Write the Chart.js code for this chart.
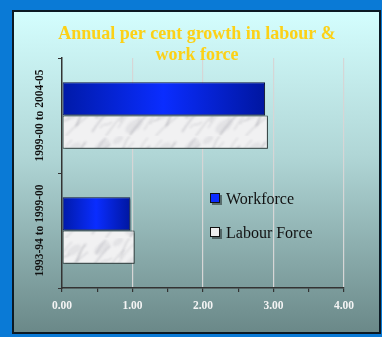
<!DOCTYPE html>
<html>
<head>
<meta charset="utf-8">
<script src="https://cdn.jsdelivr.net/npm/chart.js@4"></script>
<style>
  html, body { margin:0; padding:0; background:#0a7ad6; }
  #wrap { width:382px; height:337px; }
</style>
</head>
<body>
<div id="wrap"><canvas id="growthChart" width="382" height="337"></canvas></div>
<script>
const periods = ['1999-00 to 2004-05', '1993-94 to 1999-00'];
const workforce = [2.88, 0.97];
const labourForce = [2.92, 1.03];
const xTicks = [0, 0.5, 1, 1.5, 2, 2.5, 3, 3.5, 4];

const titleLines = ['Annual per cent growth in labour &', 'work force'];
const serif = "'Liberation Serif', 'Times New Roman', serif";

// soft marble texture for the labour force bars
function marble(){
  const c = document.createElement('canvas');
  c.width = 90; c.height = 34;
  const g = c.getContext('2d');
  g.fillStyle = '#f1f1f2';
  g.fillRect(0,0,90,34);
  const streaks = [[2,30,20,8],[16,34,34,12],[28,26,44,6],[40,33,60,10],[54,28,72,4],[66,34,88,14],
                   [6,16,16,2],[30,20,40,0],[48,18,58,2],[76,24,86,6],[10,26,22,20],[60,22,70,16]];
  g.filter = 'blur(0.8px)';
  streaks.forEach(([x1,y1,x2,y2], i) => {
    g.lineWidth = i % 3 === 0 ? 1.6 : 1;
    g.strokeStyle = i % 2 ? 'rgba(140,140,148,0.45)' : 'rgba(175,175,182,0.55)';
    g.beginPath();
    g.moveTo(x1,y1);
    g.bezierCurveTo(x1+4,y1-6,x2-6,y2+5,x2,y2);
    g.stroke();
  });
  g.fillStyle = 'rgba(200,200,206,0.35)';
  [[12,10,9],[44,24,10],[74,12,8],[28,4,6]].forEach(([x,y,r]) => {
    g.beginPath(); g.ellipse(x,y,r,r/2,-0.6,0,Math.PI*2); g.fill();
  });
  return c;
}

const ctx = document.getElementById('growthChart').getContext('2d');
const marblePattern = ctx.createPattern(marble(), 'repeat');

function blueBar(c){
  const chart = c.chart;
  const xs = chart.scales.x;
  if (!xs || c.parsed == null) return '#0a2cff';
  const x0 = xs.getPixelForValue(0);
  const x1 = xs.getPixelForValue(c.parsed.x);
  if (!isFinite(x0) || !isFinite(x1) || x1 <= x0) return '#0a2cff';
  const gr = chart.ctx.createLinearGradient(x0, 0, x1, 0);
  gr.addColorStop(0, '#001aa8');
  gr.addColorStop(0.5, '#0a2dff');
  gr.addColorStop(1, '#0016a0');
  return gr;
}

const panel = {
  id: 'panel',
  beforeDraw(chart){
    const g = chart.ctx;
    g.save();
    g.fillStyle = '#0a7ad6';
    g.fillRect(0,0,chart.width,chart.height);
    const gr = g.createLinearGradient(0, 11, 0, 333);
    gr.addColorStop(0, '#d4fefe');
    gr.addColorStop(0.45, '#b0d6d6');
    gr.addColorStop(1, '#6a8888');
    g.fillStyle = gr;
    g.fillRect(13, 11, 367, 322);
    g.strokeStyle = '#0c1a24';
    g.lineWidth = 2;
    g.strokeRect(13, 11, 367, 322);
    g.restore();
  },
  beforeDatasetsDraw(chart){
    const g = chart.ctx;
    g.save();
    g.shadowColor = 'rgba(40,50,50,0.55)';
    g.shadowOffsetX = 2;
    g.shadowOffsetY = 2;
    g.shadowBlur = 1;
  },
  afterDatasetsDraw(chart){
    chart.ctx.restore();
  },
  afterDraw(chart){
    const g = chart.ctx;
    const ys = chart.scales.y;
    g.save();
    // title
    g.fillStyle = '#fcd116';
    g.font = 'bold 18px ' + serif;
    g.textAlign = 'center';
    g.textBaseline = 'middle';
    g.fillText(titleLines[0], 197, 34);
    g.fillText(titleLines[1], 197, 55);

    // rotated category labels
    g.fillStyle = '#111';
    g.font = 'bold 11.5px ' + serif;
    periods.forEach((p, i) => {
      g.save();
      g.translate(40, ys.getPixelForValue(i));
      g.rotate(-Math.PI/2);
      g.fillText(p, 0, 0);
      g.restore();
    });

    // legend inside the plot
    g.textAlign = 'left';
    g.font = '16px ' + serif;
    const rows = [[chart.data.datasets[0], 199, '#0a2cff'], [chart.data.datasets[1], 233, '#eeeeee']];
    rows.forEach(([ds, y, fill]) => {
      g.fillStyle = 'rgba(40,50,50,0.6)';
      g.fillRect(212, y-4, 10, 10);
      g.fillStyle = fill;
      g.fillRect(210, y-6, 10, 10);
      g.strokeStyle = '#111';
      g.lineWidth = 1;
      g.strokeRect(210.5, y-5.5, 9, 9);
      g.fillStyle = '#111';
      g.fillText(ds.label, 226, y+1);
    });
    g.restore();
  }
};

new Chart(ctx, {
  type: 'bar',
  data: {
    labels: periods,
    datasets: [
      { label:'Workforce', data: workforce, backgroundColor: blueBar, borderColor:'#0a1040', borderWidth:1, borderSkipped:false },
      { label:'Labour Force', data: labourForce, backgroundColor: marblePattern, borderColor:'#2a3434', borderWidth:1, borderSkipped:false }
    ]
  },
  options: {
    indexAxis: 'y',
    responsive: false,
    animation: false,
    layout: { padding: { left:0, right:38, top:58, bottom:0 } },
    datasets: { bar: { categoryPercentage:0.58, barPercentage:1 } },
    plugins: { legend:{ display:false }, title:{ display:false }, tooltip:{ enabled:false } },
    scales: {
      x: {
        min: 0, max: 4,
        afterBuildTicks: s => { s.ticks = xTicks.map(v => ({ value:v })); },
        afterFit: s => { s.height = 49; },
        border: { color:'#333', width:1.5 },
        grid: {
          color: c => (c.tick && c.tick.value % 1 === 0 && c.tick.value > 0) ? '#d6d6d6' : 'rgba(0,0,0,0)',
          tickColor: '#333',
          tickLength: 4,
          lineWidth: 1.2
        },
        ticks: {
          color:'#f4f4f4',
          font:{ family: serif, size:11.5, weight:'bold' },
          padding: 7,
          maxRotation: 0,
          callback: v => v % 1 === 0 ? v.toFixed(2) : ''
        }
      },
      y: {
        afterFit: s => { s.width = 62; },
        border: { color:'#333', width:1.5 },
        grid: { offset:true, drawOnChartArea:false, tickColor:'#333', tickLength:4 },
        ticks: { display:false }
      }
    }
  },
  plugins: [panel]
});
</script>
</body>
</html>
